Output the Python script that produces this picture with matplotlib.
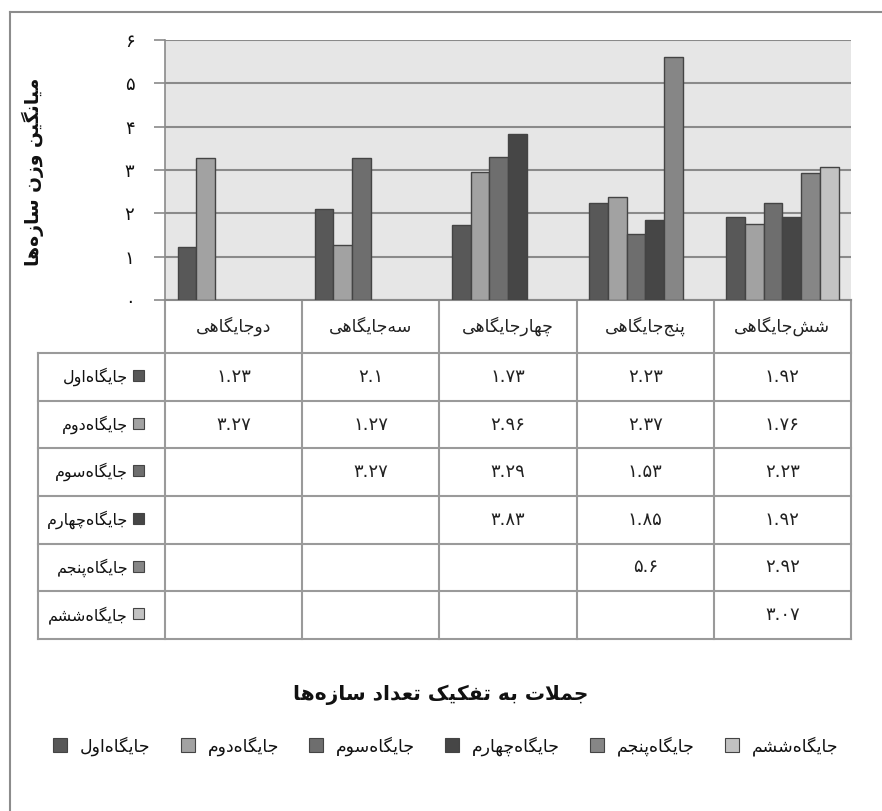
import numpy as np
import matplotlib
matplotlib.use("Agg")
import matplotlib.pyplot as plt
from matplotlib.patches import Rectangle

plt.rcParams['font.family'] = ['DejaVu Sans']

# ---- data ----
categories = ['دوجایگاهی', 'سه‌جایگاهی', 'چهارجایگاهی', 'پنج‌جایگاهی', 'شش‌جایگاهی']
series_names = ['جایگاه‌اول', 'جایگاه‌دوم', 'جایگاه‌سوم',
                'جایگاه‌چهارم', 'جایگاه‌پنجم', 'جایگاه‌ششم']
s1 = [1.23, 2.1, 1.73, 2.23, 1.92]
s2 = [3.27, 1.27, 2.96, 2.37, 1.76]
s3 = [None, 3.27, 3.29, 1.53, 2.23]
s4 = [None, None, 3.83, 1.85, 1.92]
s5 = [None, None, None, 5.6, 2.92]
s6 = [None, None, None, None, 3.07]
series_values = [s1, s2, s3, s4, s5, s6]
colors = ['#585858', '#a2a2a2', '#6e6e6e', '#464646', '#868686', '#c2c2c2']
y_label = 'میانگین وزن سازه‌ها'
x_title = 'جملات به تفکیک تعداد سازه‌ها'

# ---- minimal arabic/persian shaping (no bidi lib available) ----
# isolated, final, initial, medial
FORMS = {
    'ا': (0xFE8D, 0xFE8E, None, None),
    'آ': (0xFE81, 0xFE82, None, None),
    'ب': (0xFE8F, 0xFE90, 0xFE91, 0xFE92),
    'پ': (0xFB56, 0xFB57, 0xFB58, 0xFB59),
    'ت': (0xFE95, 0xFE96, 0xFE97, 0xFE98),
    'ث': (0xFE99, 0xFE9A, 0xFE9B, 0xFE9C),
    'ج': (0xFE9D, 0xFE9E, 0xFE9F, 0xFEA0),
    'چ': (0xFB7A, 0xFB7B, 0xFB7C, 0xFB7D),
    'ح': (0xFEA1, 0xFEA2, 0xFEA3, 0xFEA4),
    'خ': (0xFEA5, 0xFEA6, 0xFEA7, 0xFEA8),
    'د': (0xFEA9, 0xFEAA, None, None),
    'ذ': (0xFEAB, 0xFEAC, None, None),
    'ر': (0xFEAD, 0xFEAE, None, None),
    'ز': (0xFEAF, 0xFEB0, None, None),
    'ژ': (0xFB8A, 0xFB8B, None, None),
    'س': (0xFEB1, 0xFEB2, 0xFEB3, 0xFEB4),
    'ش': (0xFEB5, 0xFEB6, 0xFEB7, 0xFEB8),
    'ع': (0xFEC9, 0xFECA, 0xFECB, 0xFECC),
    'ف': (0xFED1, 0xFED2, 0xFED3, 0xFED4),
    'ق': (0xFED5, 0xFED6, 0xFED7, 0xFED8),
    'ک': (0xFB8E, 0xFB8F, 0xFB90, 0xFB91),
    'گ': (0xFB92, 0xFB93, 0xFB94, 0xFB95),
    'ل': (0xFEDD, 0xFEDE, 0xFEDF, 0xFEE0),
    'م': (0xFEE1, 0xFEE2, 0xFEE3, 0xFEE4),
    'ن': (0xFEE5, 0xFEE6, 0xFEE7, 0xFEE8),
    'ه': (0xFEE9, 0xFEEA, 0xFEEB, 0xFEEC),
    'و': (0xFEED, 0xFEEE, None, None),
    'ی': (0xFBFC, 0xFBFD, 0xFBFE, 0xFBFF),
}


def joins_left(ch):
    return ch in FORMS and FORMS[ch][2] is not None


def fa(text):
    out = []
    i = 0
    n = len(text)
    while i < n:
        c = text[i]
        if c not in FORMS:
            if c != '\u200c':
                out.append(c)
            i += 1
            continue
        prev_j = i > 0 and joins_left(text[i - 1])
        nxt = text[i + 1] if i + 1 < n else ''
        if c == 'ل' and nxt == 'ا':
            out.append(chr(0xFEFC if prev_j else 0xFEFB))
            i += 2
            continue
        next_j = joins_left(c) and nxt in FORMS
        iso, fin, ini, med = FORMS[c]
        if prev_j and next_j:
            code = med
        elif prev_j:
            code = fin
        elif next_j:
            code = ini
        else:
            code = iso
        out.append(chr(code))
        i += 1
    return ''.join(reversed(out))


def fa_num(v):
    s = f"{v:g}"
    return s.translate(str.maketrans('0123456789', '۰۱۲۳۴۵۶۷۸۹'))


W, H = 882, 811
fig = plt.figure(figsize=(W / 100, H / 100), dpi=100)

# overlay in pixel coordinates for frame and table
ov = fig.add_axes([0, 0, 1, 1], zorder=0)
ov.set_xlim(0, W)
ov.set_ylim(H, 0)
ov.axis('off')

frame_c = '#8c8c8c'
ov.plot([10, 10], [12, H], color=frame_c, lw=1.5)
ov.plot([10, W], [12, 12], color=frame_c, lw=1.5)

# chart area
px0, px1, py0, py1 = 165, 851, 40, 300
ax = fig.add_axes([px0 / W, 1 - py1 / H, (px1 - px0) / W, (py1 - py0) / H], zorder=1)
ax.set_facecolor('#e6e6e6')
ax.set_xlim(-0.5, len(categories) - 0.5)
ax.set_ylim(0, 6)

gap = 12.5 / ((px1 - px0) / len(categories))
bw = (1 - 2 * gap) / len(series_values)
xs = np.arange(len(categories))
for i, vals in enumerate(series_values):
    idx = [k for k, v in enumerate(vals) if v is not None]
    hv = [vals[k] for k in idx]
    ax.bar(xs[idx] - 0.5 + gap + (i + 0.5) * bw, hv, width=bw,
           color=colors[i], edgecolor='#444444', linewidth=1.0, zorder=3)

ax.set_yticks(range(7))
ax.set_yticklabels([fa_num(t) for t in range(7)], fontsize=13, color='#111111')
ax.yaxis.grid(True, color='#8a8a8a', lw=1.5, zorder=1)
ax.tick_params(axis='y', length=8, width=1.2, color='#8a8a8a', pad=14)
ax.tick_params(axis='x', length=0, labelbottom=False)
for sp in ['top', 'right']:
    ax.spines[sp].set_visible(False)
ax.spines['left'].set_color('#8a8a8a')
ax.spines['bottom'].set_color('#8a8a8a')
ax.spines['left'].set_linewidth(1.2)
ax.spines['bottom'].set_linewidth(1.5)

ov.text(33, 172, fa(y_label), rotation=90, ha='center', va='center',
        fontsize=13.5, fontweight='bold', color='#111111')

# ---- data table ----
tc = '#9a9a9a'
col_w = (px1 - px0) / len(categories)
col_edges = [px0 + k * col_w for k in range(len(categories) + 1)]
lab_x0 = 38
head_y0, head_y1 = py1, 353
row_h = (639 - head_y1) / len(series_names)
row_edges = [head_y1 + r * row_h for r in range(len(series_names) + 1)]

for x in col_edges:
    ov.plot([x, x], [head_y0, row_edges[-1]], color=tc, lw=1.5)
ov.plot([lab_x0, lab_x0], [head_y1, row_edges[-1]], color=tc, lw=1.5)
for y in row_edges:
    ov.plot([lab_x0, px1], [y, y], color=tc, lw=1.5)

for k, cat in enumerate(categories):
    ov.text(col_edges[k] + col_w / 2, (head_y0 + head_y1) / 2, fa(cat),
            ha='center', va='center', fontsize=12.5, color='#222222')

for r, name in enumerate(series_names):
    yc = (row_edges[r] + row_edges[r + 1]) / 2
    ov.add_patch(Rectangle((133, yc - 7), 11, 11, facecolor=colors[r],
                           edgecolor='#444444', lw=0.8))
    ov.text(128, yc, fa(name), ha='right', va='center', fontsize=11.5, color='#111111')
    for k, v in enumerate(series_values[r]):
        if v is not None:
            ov.text(col_edges[k] + col_w / 2, yc, fa_num(v), ha='center',
                    va='center', fontsize=13, color='#222222')

# axis title under table
ov.text(441, 695, fa(x_title), ha='center', va='center', fontsize=14.5,
        fontweight='bold', color='#111111')

# legend row
lx = 53
for i, name in enumerate(series_names):
    ov.add_patch(Rectangle((lx, 738), 14, 14, facecolor=colors[i],
                           edgecolor='#444444', lw=0.8))
    t = ov.text(lx + 27, 746, fa(name), ha='left', va='center', fontsize=12.5,
                color='#111111')
    fig.canvas.draw()
    bb = t.get_window_extent()
    lx = bb.x1 + 30

fig.savefig('out.png', dpi=100)
